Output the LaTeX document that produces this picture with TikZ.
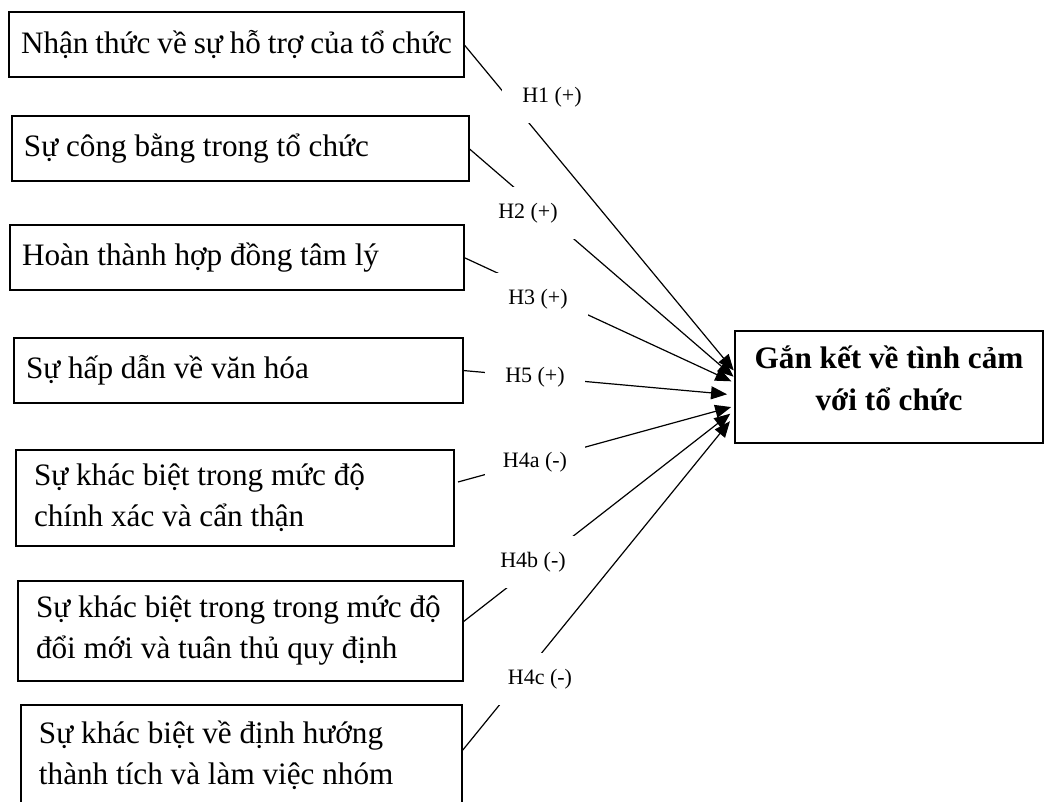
\documentclass[tikz,border=0pt]{standalone}
\usepackage{fontspec}
\setmainfont{Liberation Serif}
\usetikzlibrary{arrows.meta,positioning,calc}
\pgfdeclarelayer{bg}
\pgfsetlayers{bg,main}
\tikzstyle{factor} = [rectangle, draw, line width=0.8pt, align=flush left, inner xsep=6pt, inner ysep=0pt, outer sep=0pt, font=\fontsize{15.6}{20.5}\selectfont]
\tikzstyle{outcome} = [rectangle, draw, line width=0.8pt, align=center, outer sep=0pt, minimum width=154pt, minimum height=56pt, text depth=9pt, font=\fontsize{15.6}{21}\selectfont\bfseries]
\tikzstyle{hyp} = [rectangle, fill=white, minimum width=50pt, minimum height=26pt, inner sep=0pt, font=\fontsize{11}{13}\selectfont]
\tikzstyle{line} = [draw, -{Triangle[length=8pt,width=6.5pt]}, line width=0.6pt, shorten >=1pt]

\begin{document}
\begin{tikzpicture}[x=0.5pt, y=-0.5pt]
    \useasboundingbox (0,0) rectangle (1044,802);

    \node[factor, text width=215.5pt, minimum height=32.5pt] at (236.5,44.5) (nhanthuc) {Nhận thức về sự hỗ trợ của tổ chức};
    \node[factor, text width=216.5pt, minimum height=32.5pt] at (240.5,148.5) (congbang) {Sự công bằng trong tổ chức};
    \node[factor, text width=215pt, minimum height=32.5pt] at (237,257.5) (hopdong) {Hoàn thành hợp đồng tâm lý};
    \node[factor, text width=212.5pt, minimum height=32.5pt] at (238.5,370.5) (vanhoa) {Sự hấp dẫn về văn hóa};
    \node[factor, inner xsep=9pt, text width=201pt, minimum height=48pt] at (235,498) (chinhxac) {Sự khác biệt trong mức độ\\chính xác và cẩn thận};
    \node[factor, inner xsep=9pt, text width=204.5pt, minimum height=50pt] at (240.5,631) (doimoi) {Sự khác biệt trong trong mức độ\\đổi mới và tuân thủ quy định};
    \node[factor, inner xsep=9pt, text width=202.5pt, minimum height=50pt] at (241.5,755) (thanhtich) {Sự khác biệt về định hướng\\thành tích và làm việc nhóm};

    \node[outcome] at (889,387) (ganket) {Gắn kết về tình cảm\\với tổ chức};

    \node[hyp] at (552,97) (h1) {H1 (+)};
    \node[hyp] at (528,213) (h2) {H2 (+)};
    \node[hyp] at (538,299) (h3) {H3 (+)};
    \node[hyp] at (535,377) (h5) {H5 (+)};
    \node[hyp] at (535,462) (h4a) {H4a (-)};
    \node[hyp] at (533,562) (h4b) {H4b (-)};
    \node[hyp] at (540,679) (h4c) {H4c (-)};

    \begin{pgfonlayer}{bg}
        \draw[line] (nhanthuc.east) to ([yshift=7.5pt]ganket.west);
        \draw[line] (congbang.east) to ([yshift=4.5pt]ganket.west);
        \draw[line, shorten >=2pt] (hopdong.east) to ([yshift=2pt]ganket.west);
        \draw[line, shorten >=4pt] (vanhoa.east) to ([yshift=-4pt]ganket.west);
        \draw[line, shorten >=2pt] ([xshift=2pt,yshift=8pt]chinhxac.east) to ([yshift=-9.5pt]ganket.west);
        \draw[line, shorten >=3pt] ([yshift=4.5pt]doimoi.east) to ([yshift=-11.5pt]ganket.west);
        \draw[line, shorten >=4pt] ([yshift=2pt]thanhtich.east) to ([yshift=-14pt]ganket.west);
    \end{pgfonlayer}
\end{tikzpicture}
\end{document}
